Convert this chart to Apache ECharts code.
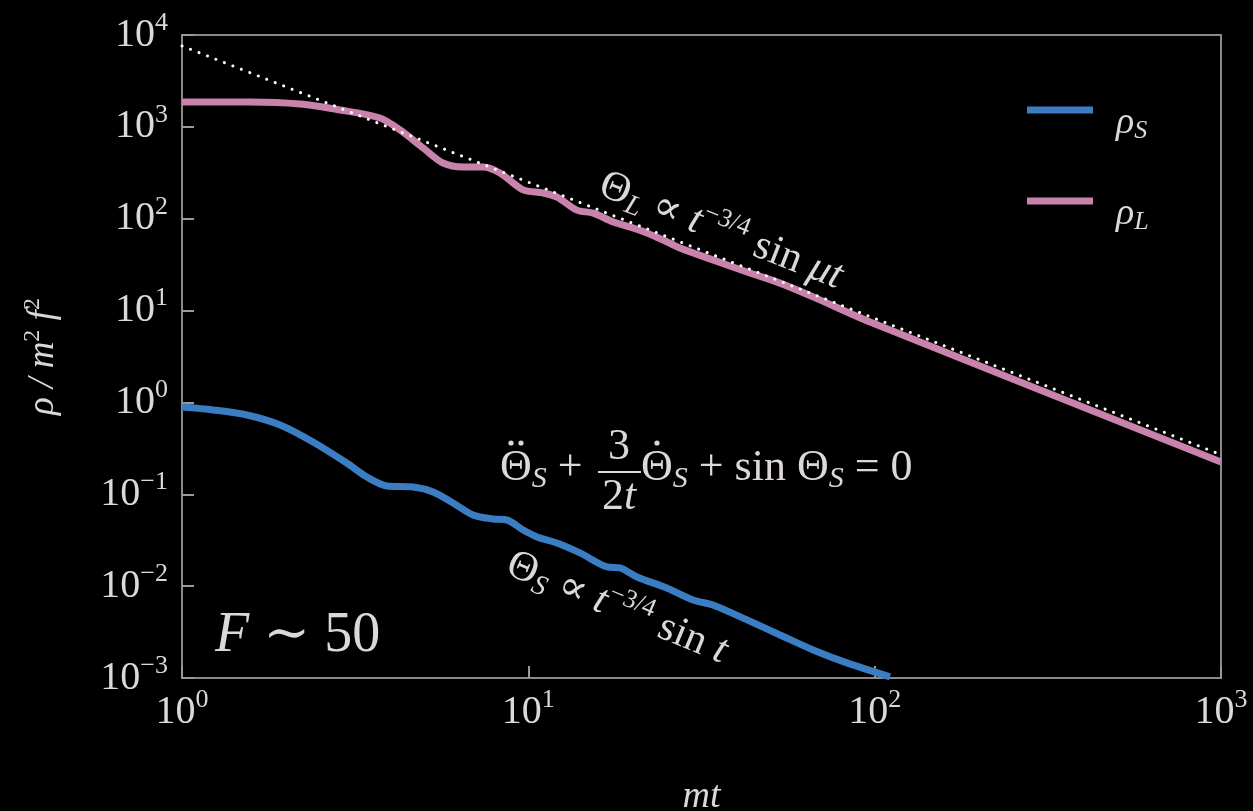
<!DOCTYPE html>
<html><head><meta charset="utf-8">
<script src="https://cdn.jsdelivr.net/npm/echarts@6/dist/echarts.min.js"></script>
<style>html,body{margin:0;padding:0;background:#000;}#c{width:1253px;height:811px;}</style>
</head><body><div id="c"></div>
<script>
// ---- data ----
const xTickExps = [0, 1, 2, 3];
const yTickExps = [-3, -2, -1, 0, 1, 2, 3, 4];
const expText = {'-3':'−3','-2':'−2','-1':'−1','0':'0','1':'1','2':'2','3':'3','4':'4'};

const rhoL_t = [1, 1.57, 2.19, 2.86, 3.73, 4.26, 4.97, 5.67, 6.48, 7.40, 8.28, 9.66, 11.0, 12.1, 13.8, 15.4, 17.6, 19.7, 22.0, 24.5, 27.4, 34.1, 42.8, 53.3, 66.4, 97, 1000];
const rhoL_v = [1866, 1866, 1775, 1527, 1247, 925, 589, 404, 366, 366, 315, 206, 191, 172, 124, 115, 92, 81, 70, 58.6, 48, 35.6, 26.3, 19.9, 14.1, 7.5, 0.225];

const rhoS_t = [1, 1.23, 1.54, 1.92, 2.39, 2.99, 3.42, 3.91, 4.65, 5.31, 6.06, 6.92, 7.91, 8.67, 9.66, 10.6, 12.1, 14.1, 16.9, 18.4, 20.6, 25.1, 29.9, 34.1, 42.8, 53.3, 66.4, 83.2, 110.7];
const rhoS_v = [0.891, 0.828, 0.730, 0.568, 0.371, 0.219, 0.154, 0.123, 0.120, 0.106, 0.0804, 0.0595, 0.0538, 0.0525, 0.0408, 0.0343, 0.0295, 0.0230, 0.0162, 0.0158, 0.0126, 0.00955, 0.00707, 0.00623, 0.00429, 0.00294, 0.00202, 0.00146, 0.00103];

const fit_t = [1, 1000];
const fit_v = [7600, 0.27];

const seriesNames = ['ρS', 'ρL'];
// ---------------------------------------

const SERIF = '"Liberation Serif","DejaVu Serif",serif';
const TXT = '#dcd8d8';
const BLUE = '#3b7dc2';
const PINK = '#c882ac';
const AXC = '#8a8a8a';
const TICKC = '#9a9a9a';

function zip(a, b) { return a.map((v, i) => [v, b[i]]); }
function expOf(v) { return Math.round(Math.log10(v)); }

const tickRich = {
  b: { fontFamily: SERIF, fontSize: 40, color: TXT, lineHeight: 40 },
  sup: { fontFamily: SERIF, fontSize: 26, color: TXT, padding: [0, 0, 24, 0], lineHeight: 26 }
};

function g(size, italic) { return { fontFamily: SERIF, fontSize: size, fontStyle: italic ? 'italic' : 'normal', fill: TXT }; }
function gsub(size, italic, padTop) { const s = g(size, italic); s.padding = [padTop, 0, 0, 0]; return s; }
function gsup(size, padBottom) { const s = g(size, false); s.padding = [0, 0, padBottom, 0]; return s; }

const chart = echarts.init(document.getElementById('c'));
chart.setOption({
  backgroundColor: '#000',
  animation: false,
  grid: { left: 182, right: 32, top: 35, bottom: 133, show: true, borderColor: AXC, borderWidth: 2, containLabel: false, outerBoundsMode: 'none' },
  legend: {
    data: seriesNames,
    orient: 'vertical', left: 1022, top: 99, itemGap: 51,
    itemWidth: 66, itemHeight: 7, icon: 'rect',
    formatter: n => n === 'ρS' ? '{r|ρ}{s|S}' : '{r|ρ}{s|L}',
    textStyle: {
      padding: [26, 0, 0, 18],
      rich: {
        r: { fontFamily: SERIF, fontStyle: 'italic', fontSize: 38, color: TXT, lineHeight: 40 },
        s: { fontFamily: SERIF, fontStyle: 'italic', fontSize: 26, color: TXT, padding: [16, 0, 0, 0] }
      }
    }
  },
  xAxis: {
    type: 'log', logBase: 10, min: 1, max: 1000,
    name: '{i|mt}', nameLocation: 'middle', nameGap: 100,
    nameTextStyle: { rich: { i: { fontFamily: SERIF, fontStyle: 'italic', fontSize: 38, color: TXT } } },
    axisLine: { show: true, lineStyle: { color: AXC, width: 2 } },
    axisTick: { show: true, inside: true, interval: 0, length: 12, lineStyle: { color: TICKC, width: 2 } },
    minorTick: { show: false },
    splitLine: { show: false },
    axisLabel: {
      margin: 14,
      formatter: v => { const e = expOf(v); return xTickExps.includes(e) ? '{b|10}{sup|' + expText[e] + '}' : ''; },
      rich: tickRich
    }
  },
  yAxis: {
    type: 'log', logBase: 10, min: 0.001, max: 10000,
    name: '{i|ρ / m}{sup|2}{i| f}{sup|2}', nameLocation: 'middle', nameGap: 117, nameRotate: 90,
    nameTextStyle: { rich: {
      i: { fontFamily: SERIF, fontStyle: 'italic', fontSize: 37, color: TXT },
      sup: { fontFamily: SERIF, fontSize: 24, color: TXT, padding: [0, 0, 20, 0] }
    } },
    axisLine: { show: true, lineStyle: { color: AXC, width: 2 } },
    axisTick: { show: true, inside: true, interval: 0, length: 12, lineStyle: { color: TICKC, width: 2 } },
    splitLine: { show: false },
    axisLabel: {
      margin: 14,
      formatter: v => { const e = expOf(v); return yTickExps.includes(e) ? '{b|10}{sup|' + expText[e] + '}' : ''; },
      rich: tickRich
    }
  },
  series: [
    { name: 'ρS', type: 'line', data: zip(rhoS_t, rhoS_v), showSymbol: false, smooth: 0.3, lineStyle: { color: BLUE, width: 7 }, itemStyle: { color: BLUE }, z: 3 },
    { name: 'ρL', type: 'line', data: zip(rhoL_t, rhoL_v), showSymbol: false, smooth: 0.3, lineStyle: { color: PINK, width: 7 }, itemStyle: { color: PINK }, z: 3 },
    { name: 'fit', type: 'line', data: zip(fit_t, fit_v), showSymbol: false, lineStyle: { color: '#ffffff', width: 3, type: [0.1, 9], cap: 'round' }, z: 4 }
  ],
  graphic: [
    { type: 'text', x: 721, y: 231, rotation: -21.5 * Math.PI / 180, z: 10,
      style: { text: '{m|Θ}{s|L}{m| ∝ }{i|t}{p|−3/4}{m| sin }{i|μt}', align: 'center', verticalAlign: 'middle',
        rich: { m: g(42, false), i: g(42, true), s: gsub(28, true, 20), p: gsup(26, 24) } } },
    { type: 'text', x: 617, y: 608, rotation: -22.5 * Math.PI / 180, z: 10,
      style: { text: '{m|Θ}{s|S}{m| ∝ }{i|t}{p|−3/4}{m| sin }{i|t}', align: 'center', verticalAlign: 'middle',
        rich: { m: g(42, false), i: g(42, true), s: gsub(28, true, 20), p: gsup(26, 24) } } },
    { type: 'text', x: 500, y: 468, z: 10,
      style: { text: '{m|Θ}{s|S}{m| + }', align: 'left', verticalAlign: 'middle',
        rich: { m: g(44, false), s: gsub(30, true, 22) } } },
    { type: 'circle', z: 10, shape: { cx: 511, cy: 443, r: 2.6 }, style: { fill: TXT } },
    { type: 'circle', z: 10, shape: { cx: 521, cy: 443, r: 2.6 }, style: { fill: TXT } },
    { type: 'text', x: 619, y: 447, z: 10, style: { text: '3', fontFamily: SERIF, fontSize: 44, fill: TXT, align: 'center', verticalAlign: 'middle' } },
    { type: 'line', z: 10, shape: { x1: 598, y1: 472, x2: 641, y2: 472 }, style: { stroke: TXT, lineWidth: 2 } },
    { type: 'text', x: 619, y: 497, z: 10,
      style: { text: '{m|2}{i|t}', align: 'center', verticalAlign: 'middle',
        rich: { m: g(44, false), i: g(44, true) } } },
    { type: 'text', x: 641, y: 468, z: 10,
      style: { text: '{m|Θ}{s|S}{m| + sin Θ}{s|S}{m| = 0}', align: 'left', verticalAlign: 'middle',
        rich: { m: g(44, false), s: gsub(30, true, 22) } } },
    { type: 'circle', z: 10, shape: { cx: 657, cy: 443, r: 2.6 }, style: { fill: TXT } },
    { type: 'text', x: 215, y: 636, z: 10,
      style: { text: '{i|F}{m| ∼ 50}', align: 'left', verticalAlign: 'middle',
        rich: { i: g(56, true), m: g(56, false) } } }
  ]
});
</script></body></html>
